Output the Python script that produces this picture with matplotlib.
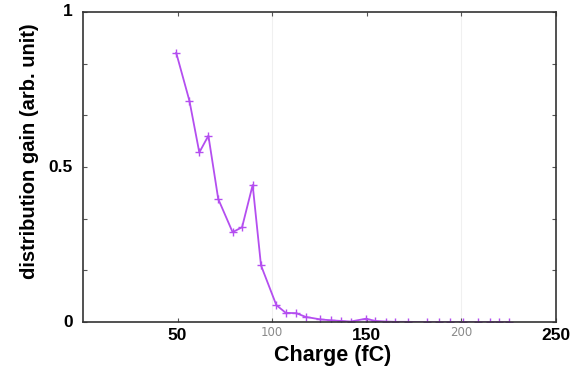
import numpy as np
import matplotlib
matplotlib.use("Agg")
import matplotlib.pyplot as plt

# values
charge = [49.3, 56.3, 61.5, 66.3, 71.5, 79.1, 84.1, 89.7, 94.1, 102.2,
          107.2, 112.7, 117.7, 125.3, 130.9, 136.2, 141.5, 149.5, 154.5, 160.0,
          165.0, 172.0, 182.0, 188.0, 194.0, 201.0, 209.0, 215.0, 220.0, 225.0]
gain = [0.868, 0.713, 0.547, 0.601, 0.397, 0.290, 0.306, 0.442, 0.183, 0.055,
        0.030, 0.029, 0.017, 0.009, 0.006, 0.004, 0.002, 0.011, 0.004, 0.002,
        0.001, 0.001, 0.0, 0.0, 0.0, 0.0, 0.0, 0.0, 0.0, 0.0]

x_ticks = [50, 100, 150, 200, 250]
x_labels = ["50", "100", "150", "200", "250"]
y_ticks = [0, 0.5, 1]
y_labels = ["0", "0.5", "1"]

plt.rcParams["font.family"] = ["Liberation Sans", "DejaVu Sans"]

fig = plt.figure(figsize=(5.72, 3.72), dpi=100)
ax = fig.add_axes([0.145, 0.134, 0.827, 0.834])

ax.plot(charge, gain, color="#b44ef0", lw=1.3, marker="+", ms=6, mew=1.0)

ax.set_xlim(0, 250)
ax.set_ylim(0, 1)

# faint grid lines like the scanned figure
for gx in [100, 200]:
    ax.axvline(gx, color="#f0f0f0", lw=0.8, zorder=0)

ax.set_xticks(x_ticks)
ax.set_xticklabels(["" for _ in x_ticks])
xf = ax.get_xaxis_transform()
for xv, xl in zip(x_ticks, x_labels):
    if xl in ("100", "200"):
        ax.text(xv, -0.032, xl, transform=xf, ha="center", va="center",
                fontsize=8.5, color="#8a8a8a", family="DejaVu Sans")
    else:
        ax.text(xv, -0.042, xl, transform=xf, ha="center", va="center",
                fontsize=12.5, fontweight="bold")

ax.set_yticks(np.linspace(0, 1, 7))
ax.set_yticklabels(["" for _ in range(7)])
for yv, yl in zip(y_ticks, y_labels):
    ax.text(-0.022, yv, yl, transform=ax.get_yaxis_transform(),
            ha="right", va="center", fontsize=12.5, fontweight="bold")

ax.tick_params(direction="in", top=True, right=True, length=3, width=0.8,
               color="#555555", pad=4)
for s in ax.spines.values():
    s.set_linewidth(1.2)
    s.set_color("#333333")

ax.set_xlabel("Charge (fC)", fontsize=15.5, fontweight="bold")
ax.xaxis.set_label_coords(0.528, -0.075)
ax.set_ylabel("distribution gain (arb. unit)", fontsize=14.5, fontweight="bold")
ax.yaxis.set_label_coords(-0.093, 0.55)

fig.savefig("out.png", dpi=100)
